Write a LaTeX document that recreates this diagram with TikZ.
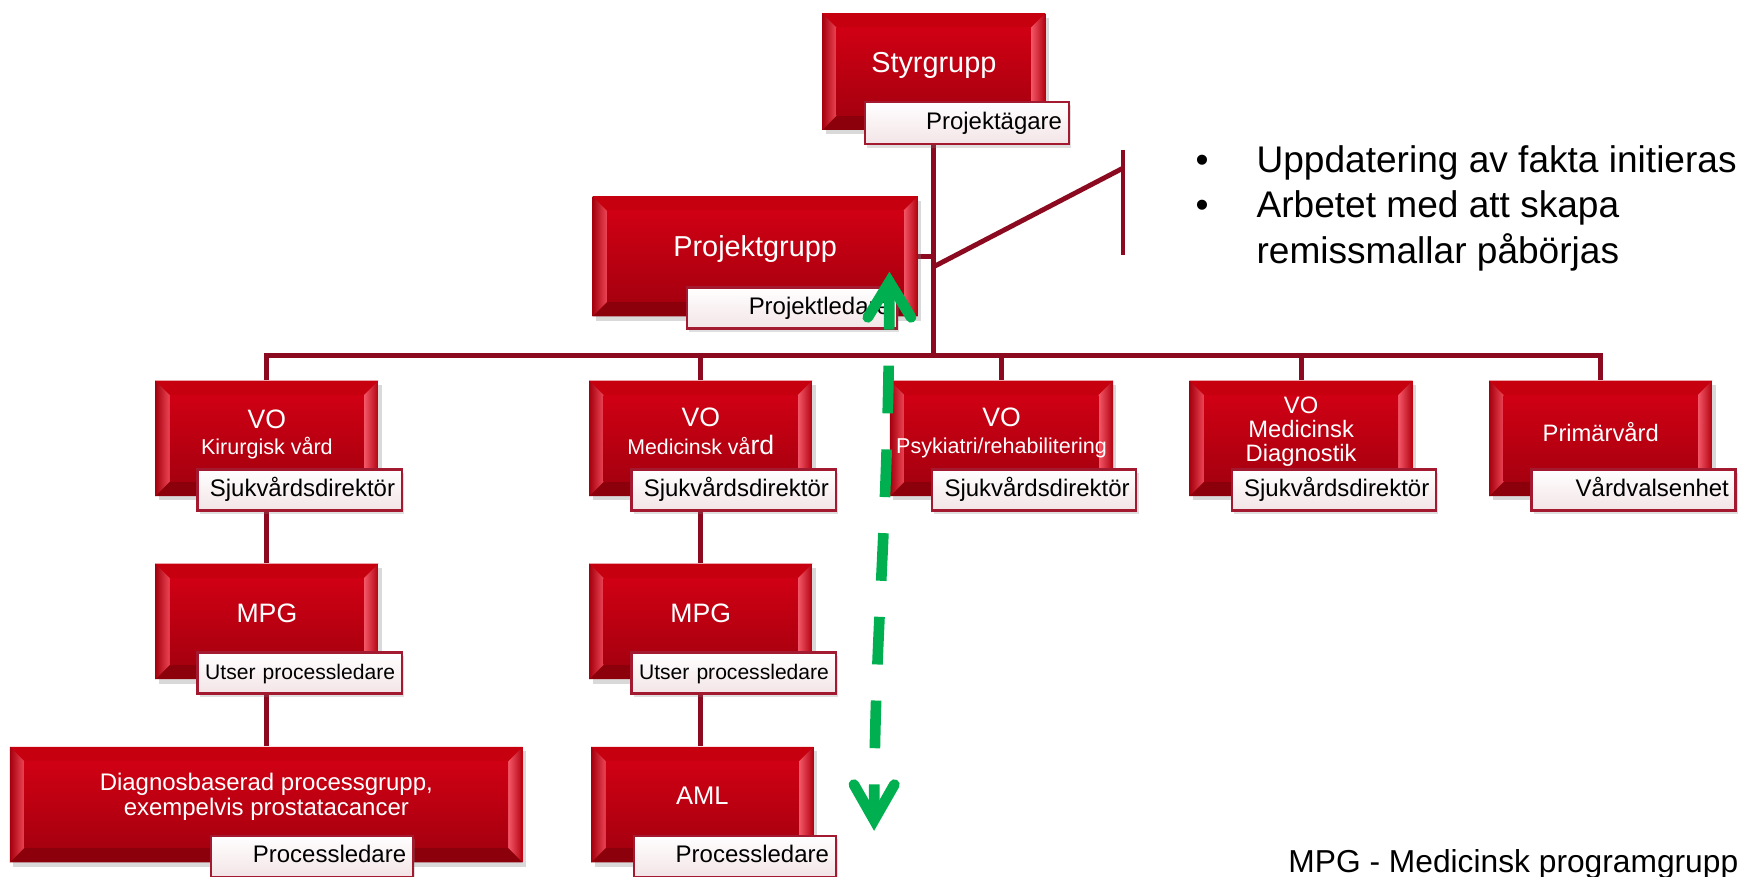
\documentclass[tikz,border=0pt]{standalone}
\usepackage{fontspec}
\setmainfont{Liberation Sans}
\usetikzlibrary{shadows,backgrounds}
\definecolor{conn}{HTML}{8B0A1F}
\definecolor{gr}{HTML}{00B050}
\definecolor{faceT}{HTML}{D00014}
\definecolor{faceB}{HTML}{A6000F}
\definecolor{bvTop}{HTML}{C7000F}
\definecolor{bvBot}{HTML}{8C000C}
\definecolor{bvLa}{HTML}{A5000E}
\definecolor{bvLb}{HTML}{EE4656}
\definecolor{bvRa}{HTML}{F45868}
\definecolor{bvRb}{HTML}{B2000F}
\definecolor{lblB}{HTML}{A31A30}
\definecolor{lblF}{HTML}{F3E4E6}
\tikzset{
  rbox/.style={rectangle, inner sep=0pt, fill=bvTop,
    drop shadow={shadow xshift=1.5pt, shadow yshift=-2pt, opacity=0.3},
    path picture={
      \path (path picture bounding box.north west) coordinate (qA)
            (path picture bounding box.north east) coordinate (qB)
            (path picture bounding box.south east) coordinate (qC)
            (path picture bounding box.south west) coordinate (qD);
      \fill[bvTop] (qA) -- (qB) -- ([shift={(-6.5pt,-6.5pt)}]qB) -- ([shift={(6.5pt,-6.5pt)}]qA) -- cycle;
      \fill[bvBot] (qD) -- (qC) -- ([shift={(-6.5pt,6.5pt)}]qC) -- ([shift={(6.5pt,6.5pt)}]qD) -- cycle;
      \shade[left color=bvLa, right color=bvLb] (qA) -- ([shift={(6.5pt,-6.5pt)}]qA) -- ([shift={(6.5pt,6.5pt)}]qD) -- (qD) -- cycle;
      \shade[left color=bvRa, right color=bvRb] (qB) -- ([shift={(-6.5pt,-6.5pt)}]qB) -- ([shift={(-6.5pt,6.5pt)}]qC) -- (qC) -- cycle;
      \shade[top color=faceT, bottom color=faceB] ([shift={(6.5pt,-6.5pt)}]qA) rectangle ([shift={(-6.5pt,6.5pt)}]qC);
    }},
  lbl/.style={rectangle, draw=lblB, line width=1pt, top color=white, bottom color=lblF,
    inner xsep=3pt, inner ysep=0pt, align=right, text width=#1, minimum height=18.5pt,
    font=\fontsize{10.8}{12}\selectfont, text height=7.8pt, text depth=2.2pt,
    drop shadow={shadow xshift=1pt, shadow yshift=-1.5pt, opacity=0.25}},
  btxt/.style={text=white, align=center, inner sep=0pt},
  conline/.style={draw=conn, line width=2.2pt},
  garrow/.style={draw=gr, line width=4.8pt}
}
\begin{document}
\begin{tikzpicture}[x=0.5pt,y=-0.5pt]
\useasboundingbox (0,0) rectangle (1568,789.5);
% --- top
\node[rbox, minimum width=100.5pt, minimum height=52.5pt] (sty) at (841.5,64.5) {};
\node[btxt, font=\fontsize{13}{15}\selectfont] (tsty) at (841.5,59) {Styrgrupp};
\node[lbl=85.75pt, minimum height=19pt] (lsty) at (871.25,111) {Projektägare};
\node[rbox, minimum width=146.5pt, minimum height=54pt] (pg) at (680.5,231) {};
\node[btxt, font=\fontsize{13}{15}\selectfont] (tpg) at (680.5,224.5) {Projektgrupp};
\node[lbl=88.5pt] (lpg) at (713.5,277.5) {Projektledare};
% --- VO row
\node[rbox, minimum width=100.5pt, minimum height=52pt] (vo1) at (240.5,395) {};
\node[btxt, font=\fontsize{9.7}{11.5}\selectfont] (tvo1) at (240.5,391.5) {{\fontsize{12}{14}\selectfont VO}\\Kirurgisk vård};
\node[lbl=86pt] (lvo1) at (270,441.5) {Sjukvårdsdirektör};
\node[rbox, minimum width=100.5pt, minimum height=52pt] (vo2) at (631.5,395) {};
\node[btxt, font=\fontsize{9.6}{12.5}\selectfont] (tvo2) at (631.5,388.5) {{\fontsize{12}{14}\selectfont VO}\\Medicinsk vå{\fontsize{12}{14}\selectfont rd}};
\node[lbl=86pt] (lvo2) at (661,441.5) {Sjukvårdsdirektör};
\node[rbox, minimum width=100.5pt, minimum height=52pt] (vo3) at (902.5,395) {};
\node[btxt, font=\fontsize{9.7}{12}\selectfont] (tvo3) at (902.5,390) {{\fontsize{12}{14}\selectfont VO}\\Psykiatri/rehabilitering};
\node[lbl=86pt] (lvo3) at (932,441.5) {Sjukvårdsdirektör};
\node[rbox, minimum width=100.5pt, minimum height=52pt] (vo4) at (1172.5,395) {};
\node[btxt, font=\fontsize{10.7}{11}\selectfont] (tvo4) at (1172.5,389) {VO\\Medicinsk\\Diagnostik};
\node[lbl=86pt] (lvo4) at (1202,441.5) {Sjukvårdsdirektör};
\node[rbox, minimum width=100.5pt, minimum height=52pt] (vo5) at (1442.5,395) {};
\node[btxt, font=\fontsize{10.7}{12}\selectfont] (tvo5) at (1442.5,389) {Primärvård};
\node[lbl=86pt] (lvo5) at (1472,441.5) {Vårdvalsenhet};
% --- MPG row
\node[rbox, minimum width=100.5pt, minimum height=52pt] (mpg1) at (240.5,560) {};
\node[btxt, font=\fontsize{12}{14}\selectfont] (tmpg1) at (240.5,553) {MPG};
\node[lbl=86pt, font=\fontsize{9.5}{11}\selectfont] (lmpg1) at (270,606.5) {\mbox{Utser processledare}};
\node[rbox, minimum width=100.5pt, minimum height=52pt] (mpg2) at (631.5,560) {};
\node[btxt, font=\fontsize{12}{14}\selectfont] (tmpg2) at (631.5,553) {MPG};
\node[lbl=86pt, font=\fontsize{9.5}{11}\selectfont] (lmpg2) at (661,606.5) {\mbox{Utser processledare}};
% --- bottom row
\node[rbox, minimum width=231pt, minimum height=52pt] (diag) at (240,725) {};
\node[btxt, font=\fontsize{10.8}{11}\selectfont] (tdiag) at (240,718) {Diagnosbaserad processgrupp,\\exempelvis prostatacancer};
\node[lbl=85pt] (ldiag) at (281,771.5) {Processledare};
\node[rbox, minimum width=100pt, minimum height=52pt] (aml) at (633,725) {};
\node[btxt, font=\fontsize{11.5}{13}\selectfont] (taml) at (633,717) {AML};
\node[lbl=85pt] (laml) at (662,771.5) {Processledare};
% --- texts
\node[anchor=base west, align=left, inner sep=0pt, font=\fontsize{16.7}{20.5}\selectfont] (bul) at (1077,237)
  {\makebox[27.5pt][l]{\textbullet}Uppdatering av fakta initieras\\
   \makebox[27.5pt][l]{\textbullet}Arbetet med att skapa\\
   \hspace*{27.5pt}remissmallar påbörjas};
\node[anchor=base west, inner sep=0pt, font=\fontsize{14.3}{16}\selectfont] (note) at (1160.7,786) {MPG - Medicinsk programgrupp};
% --- connectors
\coordinate (bus) at (842,320);
\coordinate (dA) at (842,240);
\coordinate (dB) at (1012,151.5);
\coordinate (bT) at (1012,135);
\coordinate (bB) at (1012,230);
\begin{pgfonlayer}{background}
\draw[conline] (sty.south) -- (sty.south |- bus);
\draw[conline] (pg.east) -- (pg.east -| bus);
\draw[conline] (dA) -- (dB);
\draw[conline] (bT) -- (bB);
\draw[conline] (vo1.north) -- (vo1.north |- bus) -- (vo5.north |- bus) -- (vo5.north);
\draw[conline] (vo2.north |- bus) -- (vo2.north);
\draw[conline] (vo3.north |- bus) -- (vo3.north);
\draw[conline] (vo4.north |- bus) -- (vo4.north);
\draw[conline] (lvo1.south -| vo1.south) -- (mpg1.north);
\draw[conline] (lvo2.south -| vo2.south) -- (mpg2.north);
\draw[conline] (lmpg1.south -| mpg1.south) -- (mpg1.south |- diag.north);
\draw[conline] (lmpg2.south -| mpg2.south) -- (mpg2.south |- aml.north);
\end{pgfonlayer}
% --- green arrow
\coordinate (gTop) at (801.5,254);
\coordinate (gBot) at (787.7,739);
\coordinate (gTL) at (782,286);
\coordinate (gTR) at (821,286);
\coordinate (gBL) at (769.5,707);
\coordinate (gBR) at (806,707);
\draw[garrow, dash pattern=on 21.5pt off 16.25pt] (gTop) .. controls (801,480) and (788,560) .. (gBot);
\draw[garrow, line cap=round, line join=miter] (gTL) -- (gTop) -- (gTR);
\draw[garrow, line cap=round, line join=miter] (gBL) -- (gBot) -- (gBR);
\end{tikzpicture}
\end{document}
